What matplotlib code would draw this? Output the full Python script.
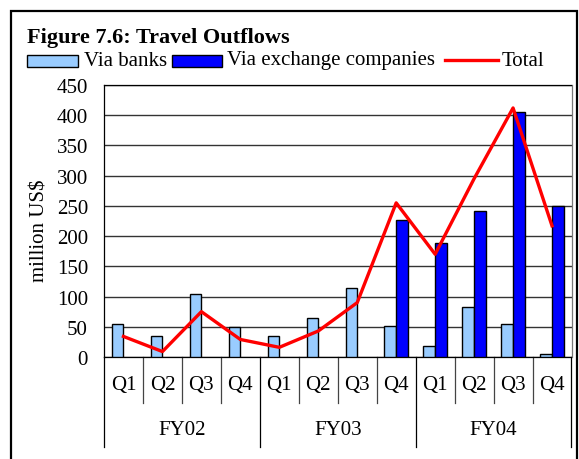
import numpy as np
import matplotlib
matplotlib.use('Agg')
import matplotlib.pyplot as plt
from matplotlib.patches import Rectangle
from matplotlib.lines import Line2D
import matplotlib.transforms as mtransforms

plt.rcParams['font.family'] = ['Liberation Serif', 'DejaVu Serif']

quarters = ['Q1', 'Q2', 'Q3', 'Q4'] * 3
years = ['FY02', 'FY03', 'FY04']
via_banks = [55, 34, 105, 49, 34, 65, 114, 52, 18, 83, 55, 5]
via_exchange = [0, 0, 0, 0, 0, 0, 0, 226, 189, 241, 405, 250]
total = [34, 9, 75, 29, 16, 43, 90, 255, 170, 295, 412, 217]

W, H = 579, 460
FS = 15
fig = plt.figure(figsize=(W / 100, H / 100), dpi=100)

def fx(px):
    return px / W

def fy(py):
    return 1 - py / H

ax = fig.add_axes([fx(104), fy(358), fx(571.5) - fx(104), fy(86) - fy(358)])

x = np.arange(len(quarters))
bw = 0.3
ax.bar(x - bw / 2, via_banks, bw, color='#99CCFF', edgecolor='black', linewidth=1.0, zorder=3)
ex = np.array(via_exchange)
m = ex > 0
ax.bar(x[m] + bw / 2, ex[m], bw, color='#0000FF', edgecolor='black', linewidth=1.0, zorder=3)
ax.plot(x, total, color='#FF0000', linewidth=2.4, zorder=4)

ax.set_xlim(-0.5, len(quarters) - 0.5)
ax.set_ylim(0, 450)
ax.set_yticks(np.arange(0, 451, 50))
ax.tick_params(axis='y', length=0, pad=11.5, labelsize=FS)
ax.set_xticks([])
ax.yaxis.grid(True, color='#333333', linewidth=1.0)
ax.set_axisbelow(True)
for s in ax.spines.values():
    s.set_color('black')
    s.set_linewidth(0.9)
ax.spines['right'].set_color('#777777')

# category axis below the plot
trans = mtransforms.blended_transform_factory(ax.transData, ax.transAxes)
q_bot = (358 - 404) / 272
y_bot = (358 - 448) / 272
for i in range(len(quarters) + 1):
    b = i - 0.5
    low = y_bot if i % 4 == 0 else q_bot
    ax.add_line(Line2D([b, b], [0, low], transform=trans, color='black' if i % 4 == 0 else '#444444',
                       linewidth=0.9, clip_on=False))
for i, q in enumerate(quarters):
    ax.text(i, (358 - 386) / 272, q, transform=trans, ha='center', va='center', fontsize=FS)
for j, yname in enumerate(years):
    ax.text(j * 4 + 1.5, (358 - 431) / 272, yname, transform=trans, ha='center', va='center', fontsize=FS)

fig.text(fx(40), fy(231), 'million US$', rotation=90, ha='center', va='center', fontsize=FS)

# title and legend
fig.text(fx(27), fy(43), 'Figure 7.6: Travel Outflows', fontsize=16, fontweight='bold', va='baseline')
fig.patches.append(Rectangle((fx(27), fy(68)), fx(78) - fx(27), fy(56) - fy(68), transform=fig.transFigure,
                             facecolor='#99CCFF', edgecolor='black', linewidth=1.0))
fig.text(fx(84), fy(65.5), 'Via banks', fontsize=FS, va='baseline')
fig.patches.append(Rectangle((fx(172), fy(68)), fx(222) - fx(172), fy(56) - fy(68), transform=fig.transFigure,
                             facecolor='#0000FF', edgecolor='black', linewidth=1.0))
fig.text(fx(227), fy(65.5), 'Via exchange companies', fontsize=FS, va='baseline')
fig.lines.append(Line2D([fx(445), fx(498)], [fy(61), fy(61)], transform=fig.transFigure,
                        color='#FF0000', linewidth=2.4))
fig.text(fx(502), fy(65.5), 'Total', fontsize=FS, va='baseline')

# outer frame
fig.patches.append(Rectangle((fx(11), -0.1), fx(577) - fx(11), fy(12) + 0.1, transform=fig.transFigure,
                             facecolor='none', edgecolor='black', linewidth=1.6))

fig.savefig('out.png', dpi=100)
